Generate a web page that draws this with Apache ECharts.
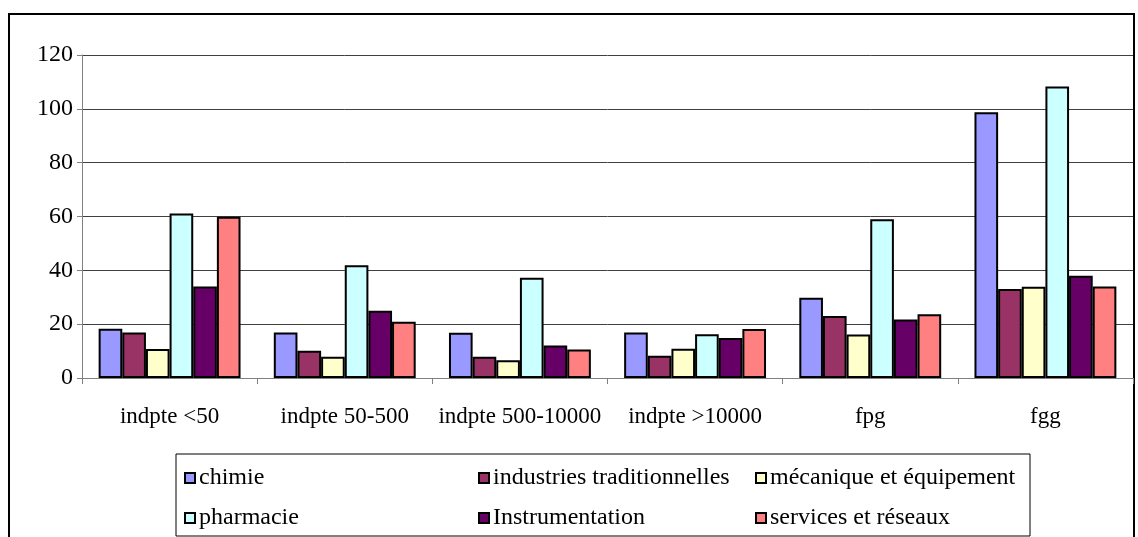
<!DOCTYPE html>
<html><head><meta charset="utf-8">
<script src="https://cdn.jsdelivr.net/npm/echarts@6/dist/echarts.min.js"></script>
<style>html,body{margin:0;padding:0;background:#fff}#c{width:1138px;height:537px}</style>
</head><body><div id="c"></div>
<script>
const categories = ['indpte <50', 'indpte 50-500', 'indpte 500-10000', 'indpte >10000', 'fpg', 'fgg'];
const seriesNames = ['chimie', 'industries traditionnelles', 'mécanique et équipement', 'pharmacie', 'Instrumentation', 'services et réseaux'];
const chimie = [18.3, 16.9, 16.8, 16.9, 29.8, 98.7];
const industries = [16.9, 10.1, 7.9, 8.3, 23.0, 33.1];
const mecanique = [10.8, 7.9, 6.6, 10.9, 16.2, 33.9];
const pharmacie = [61.1, 41.9, 37.2, 16.3, 59.0, 108.3];
const instrumentation = [34.0, 25.0, 12.1, 14.9, 21.7, 38.0];
const services = [59.9, 20.9, 10.6, 18.2, 23.7, 34.0];
const yTicks = [0, 20, 40, 60, 80, 100, 120];

const colors = ['#9999FF', '#993366', '#FFFFCC', '#CCFFFF', '#660066', '#FF8080'];
const values = [chimie, industries, mecanique, pharmacie, instrumentation, services];
const font = "'Liberation Serif','Times New Roman',serif";

const chart = echarts.init(document.getElementById('c'));
const legendPos = [[184, 466], [478, 466], [755, 466], [184, 506], [478, 506], [755, 506]];
chart.setOption({
  animation: false,
  textStyle: {fontFamily: font},
  grid: {left: 82, right: 5, top: 55, bottom: 159},
  graphic: [
    {type: 'rect', shape: {x: 9, y: 14, width: 1125, height: 600}, style: {fill: 'none', stroke: '#000', lineWidth: 2}, silent: true, z: -1},
    {type: 'rect', shape: {x: 176, y: 454, width: 854, height: 82}, style: {fill: 'none', stroke: '#000', lineWidth: 1}, silent: true, z: -1}
  ],
  legend: seriesNames.map((n, i) => ({
    data: [n], left: legendPos[i][0], top: legendPos[i][1],
    itemWidth: 10, itemHeight: 10, itemGap: 0, padding: 0,
    icon: 'rect',
    textStyle: {fontFamily: font, fontSize: 24, color: '#000', padding: [0, 0, 0, -1]},
    selectedMode: false
  })),
  xAxis: {
    type: 'category', data: categories,
    axisLine: {lineStyle: {color: '#808080', width: 1}},
    axisTick: {show: true, length: 6, lineStyle: {color: '#808080'}},
    axisLabel: {color: '#000', fontSize: 23, fontFamily: font, margin: 27, interval: 0, hideOverlap: false}
  },
  yAxis: {
    type: 'value', min: yTicks[0], max: yTicks[yTicks.length - 1], interval: 20,
    axisLine: {show: true, lineStyle: {color: '#808080'}},
    axisTick: {show: true, length: 5, lineStyle: {color: '#808080'}},
    splitLine: {lineStyle: {color: '#404040', width: 1}},
    axisLabel: {color: '#000', fontSize: 24, fontFamily: font, margin: 9}
  },
  series: seriesNames.map((n, i) => ({
    name: n, type: 'bar', data: values[i],
    barGap: '0%', barCategoryGap: '19%',
    itemStyle: {color: colors[i], borderColor: '#000', borderWidth: 2}
  }))
});
</script></body></html>
